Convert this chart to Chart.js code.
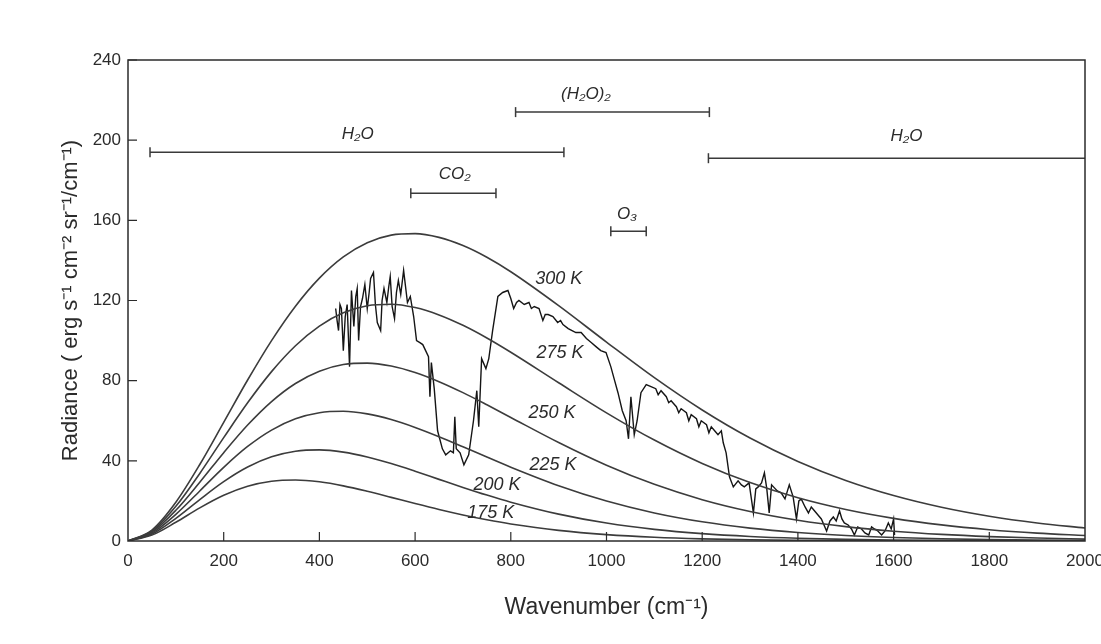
<!DOCTYPE html>
<html>
<head>
<meta charset="utf-8">
<title>Radiance vs wavenumber</title>
<script src="https://cdn.jsdelivr.net/npm/chart.js@4.4.1/dist/chart.umd.min.js"></script>
<style>
  body { margin: 0; background: #fff; overflow: hidden; }
</style>
</head>
<body>
<canvas id="radianceChart" width="1101" height="644"></canvas>
<script>
// wavenumber grid used for the blackbody curves (cm^-1)
const wavenumbers = [0, 50, 100, 150, 200, 250, 300, 350, 400, 450, 500, 550, 600, 650, 700, 750, 800, 900, 1000,
  1100, 1200, 1300, 1400, 1500, 1600, 1700, 1800, 1900, 2000];

// blackbody radiance (erg s-1 cm-2 sr-1 / cm-1)
const bb300 = [0, 5.49, 19.35, 38.16, 59.20, 80.32, 99.99, 117.17, 131.18, 141.77, 148.86, 152.63, 153.38, 151.50, 147.42, 141.58, 134.35, 117.44, 99.25,
  81.50, 65.38, 51.39, 39.70, 30.21, 22.69, 16.85, 12.38, 9.01, 6.50];
const bb275 = [0, 4.98, 17.32, 33.72, 51.58, 68.95, 84.51, 97.43, 107.25, 113.86, 117.39, 118.15, 116.47, 112.82, 107.62, 101.30, 94.19, 78.98, 63.96,
  50.36, 38.69, 29.13, 21.55, 15.70, 11.29, 8.03, 5.65, 3.93, 2.72];
const bb250 = [0, 4.47, 15.31, 29.32, 44.08, 57.86, 69.58, 78.61, 84.74, 88.03, 88.76, 87.30, 84.07, 79.51, 74.03, 67.96, 61.66, 49.16, 37.83,
  28.28, 20.63, 14.75, 10.36, 7.16, 4.89, 3.30, 2.20, 1.46, 0.96];
const bb225 = [0, 3.95, 13.30, 24.97, 36.75, 47.16, 55.34, 60.97, 64.01, 64.71, 63.43, 60.62, 56.68, 52.04, 47.01, 41.87, 36.82, 27.58, 19.93,
  13.99, 9.57, 6.42, 4.23, 2.74, 1.76, 1.11, 0.70, 0.43, 0.27];
const bb200 = [0, 3.44, 11.31, 20.70, 29.63, 36.92, 42.00, 44.78, 45.45, 44.36, 41.95, 38.64, 34.80, 30.75, 26.73, 22.90, 19.37, 13.41, 8.95,
  5.80, 3.67, 2.27, 1.38, 0.83, 0.49, 0.29, 0.17, 0.10, 0.05];
const bb175 = [0, 2.93, 9.34, 16.53, 22.81, 27.33, 29.83, 30.45, 29.53, 27.52, 24.81, 21.77, 18.67, 15.70, 12.98, 10.57, 8.50, 5.31, 3.20,
  1.87, 1.07, 0.60, 0.33, 0.18, 0.09, 0.05, 0.03, 0.02, 0.01];

// measured spectrum
const specWn = [434, 437, 440, 443, 446, 450, 454, 458, 463, 467, 472, 476, 479, 482, 486, 490, 495, 500, 504, 507,
  513, 517, 521, 528, 531, 535, 541, 545, 548, 552, 557, 561, 565, 570, 576, 580, 584, 590, 597, 603,
  610, 616, 622, 628, 631, 634, 640, 647, 657, 664, 674, 680, 683, 686, 694, 702, 712, 722, 729, 733,
  739, 748, 754, 762, 773, 783, 794, 800, 806, 812, 817, 828, 838, 843, 849, 859, 867, 872, 878, 888,
  898, 904, 909, 920, 928, 936, 947, 958, 968, 978, 988, 999, 1009, 1017, 1024, 1033, 1041, 1046, 1051, 1058,
  1064, 1072, 1083, 1093, 1103, 1108, 1114, 1125, 1130, 1135, 1146, 1151, 1156, 1167, 1172, 1177, 1188, 1193, 1198, 1209,
  1214, 1219, 1226, 1233, 1240, 1244, 1250, 1257, 1265, 1275, 1282, 1288, 1298, 1307, 1312, 1317, 1324, 1330, 1335, 1340,
  1345, 1349, 1357, 1365, 1373, 1382, 1390, 1397, 1402, 1407, 1415, 1422, 1428, 1435, 1442, 1449, 1460, 1467, 1474, 1480,
  1487, 1492, 1497, 1505, 1512, 1518, 1525, 1533, 1540, 1548, 1554, 1560, 1567, 1575, 1582, 1589, 1595, 1600, 1602];
const specRad = [116, 110, 105, 118, 116, 95, 112, 118, 87, 125, 107, 122, 126, 100, 117, 121, 128, 116, 124, 131,
  134, 118, 109, 105, 120, 126, 119, 127, 132, 117, 111, 124, 130, 123, 135, 127, 119, 122, 112, 100,
  99, 98, 95, 92, 72, 89, 76, 55, 46, 43, 45, 44, 62, 46, 44, 38, 43, 60, 75, 57,
  91, 86, 91, 105, 122, 124, 125, 121, 116, 119, 120, 118, 119, 116, 117, 116, 110, 113, 113, 112,
  109, 110, 108, 106, 105, 104, 104, 101, 99, 97, 95, 94, 87, 80, 74, 65, 60, 51, 72, 53,
  60, 74, 78, 77, 76, 73, 75, 72, 69, 70, 67, 64, 66, 64, 60, 63, 61, 57, 60, 58,
  54, 57, 55, 53, 55, 49, 44, 32, 27, 30, 28, 27, 29, 14, 26, 27, 29, 34, 26, 14,
  28, 27, 25, 24, 21, 28, 22, 11, 20, 21, 17, 14, 17, 15, 13, 11, 5, 10, 12, 10,
  15, 11, 9, 8, 6, 3, 7, 6, 4, 3, 7, 6, 5, 3, 5, 9, 6, 11, 3];

// absorption band markers
const bandNames = ["H₂O", "CO₂", "O₃", "(H₂O)₂", "H₂O"];
const bandStart = [46, 591, 1009, 810, 1213];
const bandEnd = [911, 769, 1083, 1215, 2000];
const bandLevel = [194, 173.5, 154.5, 214, 191];
const bandLabelX = [480, 683, 1043, 957, 1627];
const bandLabelY = [203, 183, 163, 223, 202];

// curve temperature labels
const tempNames = ["300 K", "275 K", "250 K", "225 K", "200 K", "175 K"];
const tempLabelX = [900, 903, 886, 888, 771, 758];
const tempLabelY = [130.5, 94, 64, 38, 28, 14];

const FONT = '"Liberation Sans", Arial, Helvetica, sans-serif';
const INK = "#2b2b2b";

function toPoints(xs, ys) {
  return xs.map((x, i) => ({ x: x, y: ys[i] }));
}

const curveSets = [bb300, bb275, bb250, bb225, bb200, bb175].map(arr => ({
  data: toPoints(wavenumbers, arr),
  borderColor: "#3c3c3c",
  borderWidth: 1.6,
  pointRadius: 0,
  cubicInterpolationMode: "monotone",
}));

const spectrumSet = {
  data: toPoints(specWn, specRad),
  borderColor: "#151515",
  borderWidth: 1.4,
  pointRadius: 0,
  tension: 0,
};

// each band is a horizontal bar with vertical end caps
const bandSets = bandNames.map((name, i) => ({
  data: [{ x: bandStart[i], y: bandLevel[i] }, { x: bandEnd[i], y: bandLevel[i] }],
  borderColor: "#3a3a3a",
  borderWidth: 1.5,
  pointStyle: "line",
  rotation: 90,
  pointRadius: bandEnd[i] >= 2000 ? [5, 0] : [5, 5],
  pointBorderColor: "#3a3a3a",
  pointBorderWidth: 1.5,
}));

// frame, inward ticks, titles and text labels
const decorPlugin = {
  id: "decor",
  afterDraw(chart) {
    const { ctx, chartArea: a, scales } = chart;
    const xs = scales.x, ys = scales.y;
    ctx.save();
    ctx.strokeStyle = INK;
    ctx.lineWidth = 1.5;
    ctx.strokeRect(a.left, a.top, a.right - a.left, a.bottom - a.top);

    ctx.lineWidth = 1.2;
    ctx.beginPath();
    for (let v = 200; v < 2000; v += 200) {
      const px = xs.getPixelForValue(v);
      ctx.moveTo(px, a.bottom);
      ctx.lineTo(px, a.bottom - 9);
    }
    for (let v = 40; v <= 240; v += 40) {
      const py = ys.getPixelForValue(v);
      ctx.moveTo(a.left, py);
      ctx.lineTo(a.left + 9, py);
    }
    ctx.stroke();

    ctx.fillStyle = INK;
    ctx.textAlign = "center";
    ctx.textBaseline = "middle";

    ctx.font = "italic 18px " + FONT;
    tempNames.forEach((t, i) => {
      ctx.fillText(t, xs.getPixelForValue(tempLabelX[i]), ys.getPixelForValue(tempLabelY[i]));
    });

    ctx.font = "italic 17px " + FONT;
    bandNames.forEach((t, i) => {
      ctx.fillText(t, xs.getPixelForValue(bandLabelX[i]), ys.getPixelForValue(bandLabelY[i]));
    });

    ctx.font = "23px " + FONT;
    ctx.fillText("Wavenumber (cm⁻¹)", (a.left + a.right) / 2, 608);
    ctx.font = "22px " + FONT;
    ctx.translate(71, (a.top + a.bottom) / 2);
    ctx.rotate(-Math.PI / 2);
    ctx.fillText("Radiance ( erg s⁻¹ cm⁻² sr⁻¹/cm⁻¹)", 0, 0);
    ctx.restore();
  },
};

const ctx = document.getElementById("radianceChart").getContext("2d");
const radianceChart = new Chart(ctx, {
  type: "line",
  data: { datasets: [...curveSets, spectrumSet, ...bandSets] },
  options: {
    responsive: false,
    animation: false,
    layout: { padding: { top: 60, right: 16, left: 0, bottom: 0 } },
    plugins: { legend: { display: false }, tooltip: { enabled: false } },
    scales: {
      x: {
        type: "linear",
        min: 0,
        max: 2000,
        ticks: { stepSize: 200, padding: 10, maxRotation: 0, color: INK, font: { size: 17, family: FONT },
          callback: v => String(v) },
        grid: { display: false, drawTicks: false },
        border: { display: false },
        afterFit: s => { s.height = 103; s.paddingLeft = 0; s.paddingRight = 0; },
      },
      y: {
        min: 0,
        max: 240,
        ticks: { stepSize: 40, padding: 7, color: INK, font: { size: 17, family: FONT } },
        grid: { display: false, drawTicks: false },
        border: { display: false },
        afterFit: s => { s.width = 128; s.paddingTop = 0; s.paddingBottom = 0; },
      },
    },
  },
  plugins: [decorPlugin],
});
</script>
</body>
</html>
